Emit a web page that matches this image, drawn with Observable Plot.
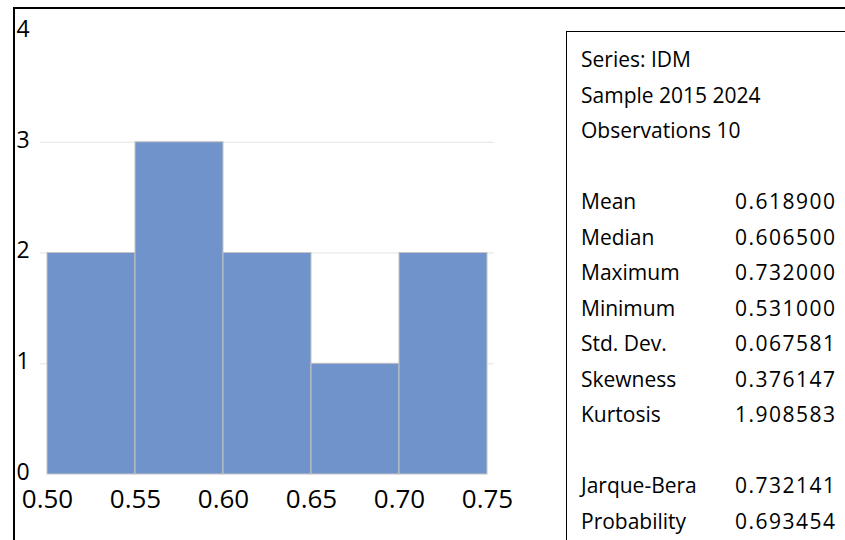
<!DOCTYPE html>
<html>
<head>
<meta charset="utf-8">
<script src="https://cdn.jsdelivr.net/npm/d3@7"></script>
<script src="https://cdn.jsdelivr.net/npm/@observablehq/plot@0.6"></script>
<style>
  html, body { margin: 0; padding: 0; background: #fff; }
  #wrap { position: relative; width: 845px; height: 540px; overflow: hidden; background: #fff; font-family: "Open Sans", sans-serif; }
  #chart { position: absolute; left: 0; top: 0; }
  .line { position: absolute; background: #000; }
  #stats { position: absolute; left: 566px; top: 31px; right: 0; bottom: 0; border-left: 1px solid #000; border-top: 1px solid #000; }
  .row { position: absolute; left: 0; right: 0; height: 30px; font-size: 21px; color: #000; white-space: nowrap; }
  .row .lab { position: absolute; left: 14px; bottom: 0; line-height: 1; }
  .row .val { position: absolute; left: 168px; bottom: 0; line-height: 1; letter-spacing: 1.5px; }
</style>
</head>
<body>
<div id="wrap">
  <div id="chart"></div>
  <div class="line" style="left:13px;top:7px;width:832px;height:2px"></div>
  <div class="line" style="left:13px;top:7px;width:2px;height:533px"></div>
  <div id="stats"></div>
</div>
<script>
// Histogram data
const binEdges = [0.50, 0.55, 0.60, 0.65, 0.70, 0.75];
const counts = [2, 3, 2, 1, 2];
const xTicks = [0.50, 0.55, 0.60, 0.65, 0.70, 0.75];
const yTicks = [0, 1, 2, 3, 4];
const gridValues = [1, 2, 3];

// Statistics panel
const headerLines = ["Series: IDM", "Sample 2015 2024", "Observations 10"];
const statLabels = ["Mean", "Median", "Maximum", "Minimum", "Std. Dev.", "Skewness", "Kurtosis"];
const statValues = ["0.618900", "0.606500", "0.732000", "0.531000", "0.067581", "0.376147", "1.908583"];
const testLabels = ["Jarque-Bera", "Probability"];
const testValues = ["0.732141", "0.693454"];

const bins = counts.map((c, i) => ({x1: binEdges[i], x2: binEdges[i + 1], count: c}));

const chart = Plot.plot({
  width: 566,
  height: 540,
  marginLeft: 47,
  marginRight: 79,
  marginTop: 31,
  marginBottom: 66,
  style: {fontFamily: "'Open Sans', sans-serif", background: "transparent", color: "#000"},
  x: {domain: [0.5, 0.75], axis: null},
  y: {domain: [0, 4], axis: null},
  marks: [
    Plot.ruleY(gridValues, {stroke: "#e3e3e3", strokeWidth: 1, insetLeft: -7, insetRight: -7}),
    Plot.rectY(bins, {x1: "x1", x2: "x2", y: "count", fill: "#7193cb", stroke: "#c3c3c3", strokeWidth: 1}),
    Plot.text(yTicks, {y: d => d, text: d => String(d), frameAnchor: "left", textAnchor: "start", dx: -31, dy: -2, fontSize: 23, fill: "#000"}),
    Plot.text(xTicks, {x: d => d, text: d => d.toFixed(2), frameAnchor: "bottom", lineAnchor: "top", dy: 15, fontSize: 26, fill: "#000"})
  ]
});
document.getElementById("chart").appendChild(chart);

// Build stats rows: baseline positions relative to page
const stats = document.getElementById("stats");
const rows = [];
headerLines.forEach(t => rows.push({lab: t, val: ""}));
rows.push(null);
statLabels.forEach((t, i) => rows.push({lab: t, val: statValues[i]}));
rows.push(null);
testLabels.forEach((t, i) => rows.push({lab: t, val: testValues[i]}));
const firstBaseline = 65, rowStep = 35.5, boxTop = 32;
rows.forEach((r, i) => {
  if (!r) return;
  const div = document.createElement("div");
  div.className = "row";
  const baseline = firstBaseline + i * rowStep - boxTop;
  div.style.top = (baseline - 30 + 5) + "px";
  const lab = document.createElement("span");
  lab.className = "lab";
  lab.textContent = r.lab;
  div.appendChild(lab);
  if (r.val) {
    const v = document.createElement("span");
    v.className = "val";
    v.textContent = r.val;
    div.appendChild(v);
  }
  stats.appendChild(div);
});
</script>
</body>
</html>
